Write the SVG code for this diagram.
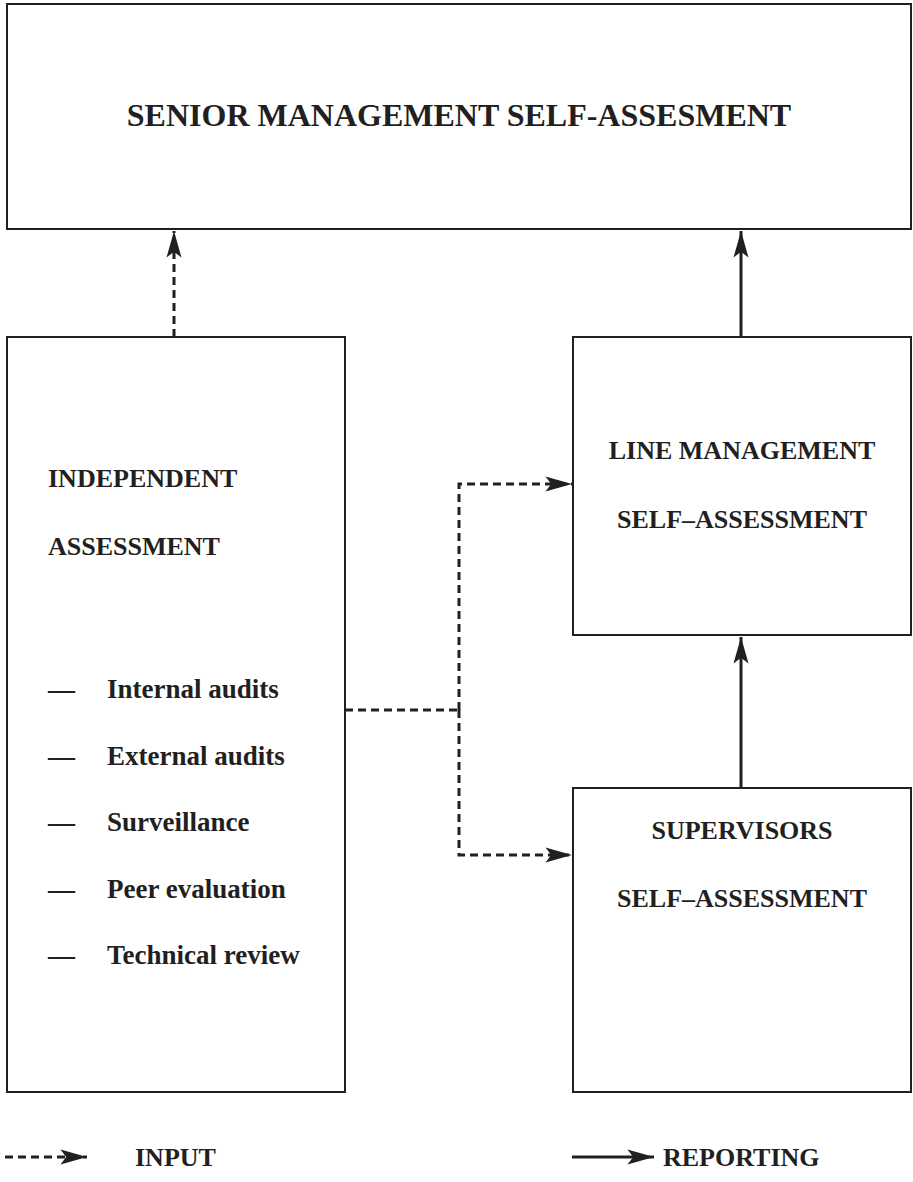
<svg xmlns="http://www.w3.org/2000/svg" width="913" height="1182" viewBox="0 0 913 1182">
  <style>
    .box { fill: #ffffff; stroke: #231f20; stroke-width: 2; }
    .lbl { font-family: "Liberation Serif", "Times New Roman", serif; font-weight: bold; font-size: 26px; fill: #231f20; }
    .item { font-size: 27px; }
    .title { font-size: 32px; }
    .input { fill: none; stroke: #231f20; stroke-width: 3; stroke-dasharray: 8 5; }
    .report { fill: none; stroke: #231f20; stroke-width: 3; }
  </style>
  <defs>
    <marker id="head" markerUnits="userSpaceOnUse" markerWidth="30" markerHeight="20" viewBox="-24 -8 26 16" refX="0" refY="0" orient="auto">
      <path d="M0,0 L-23,-6.5 L-18,0 L-23,6.5 Z" fill="#231f20"/>
    </marker>
  </defs>

  <rect width="913" height="1182" fill="#ffffff"/>

  <!-- connectors -->
  <g id="connectors">
    <!-- independent assessment feeds senior management -->
    <line class="input" x1="174" y1="337" x2="174" y2="231" marker-end="url(#head)"/>
    <!-- line management reports to senior management -->
    <line class="report" x1="741" y1="337" x2="741" y2="231" marker-end="url(#head)"/>
    <!-- supervisors report to line management -->
    <line class="report" x1="741" y1="788" x2="741" y2="637" marker-end="url(#head)"/>
    <!-- independent assessment feeds both self-assessments -->
    <polyline class="input" points="345,710 459,710"/>
    <polyline class="input" points="459,710 459,484 572,484" marker-end="url(#head)"/>
    <polyline class="input" points="459,710 459,855 572,855" marker-end="url(#head)"/>
  </g>

  <g id="senior-management">
    <rect class="box" x="7" y="4" width="904" height="225"/>
    <text class="lbl title" x="459" y="126" text-anchor="middle">SENIOR MANAGEMENT SELF-ASSESMENT</text>
  </g>

  <g id="independent-assessment">
    <rect class="box" x="7" y="337" width="338" height="755"/>
    <text class="lbl" x="48" y="487">INDEPENDENT</text>
    <text class="lbl" x="48" y="555">ASSESSMENT</text>
    <g>
      <text class="lbl item" x="48" y="698">—</text>
      <text class="lbl item" x="107" y="698">Internal audits</text>
      <text class="lbl item" x="48" y="765">—</text>
      <text class="lbl item" x="107" y="765">External audits</text>
      <text class="lbl item" x="48" y="831">—</text>
      <text class="lbl item" x="107" y="831">Surveillance</text>
      <text class="lbl item" x="48" y="898">—</text>
      <text class="lbl item" x="107" y="898">Peer evaluation</text>
      <text class="lbl item" x="48" y="964">—</text>
      <text class="lbl item" x="107" y="964">Technical review</text>
    </g>
  </g>

  <g id="line-management">
    <rect class="box" x="573" y="337" width="338" height="298"/>
    <text class="lbl" x="742" y="459" text-anchor="middle">LINE MANAGEMENT</text>
    <text class="lbl" x="742" y="528" text-anchor="middle">SELF–ASSESSMENT</text>
  </g>

  <g id="supervisors">
    <rect class="box" x="573" y="788" width="338" height="304"/>
    <text class="lbl" x="742" y="839" text-anchor="middle">SUPERVISORS</text>
    <text class="lbl" x="742" y="907" text-anchor="middle">SELF–ASSESSMENT</text>
  </g>

  <g id="legend">
    <line class="input" x1="5" y1="1157" x2="87" y2="1157" marker-end="url(#head)"/>
    <text class="lbl" x="135" y="1166">INPUT</text>
    <line class="report" x1="572" y1="1157" x2="654" y2="1157" marker-end="url(#head)"/>
    <text class="lbl" x="663" y="1166">REPORTING</text>
  </g>
</svg>
